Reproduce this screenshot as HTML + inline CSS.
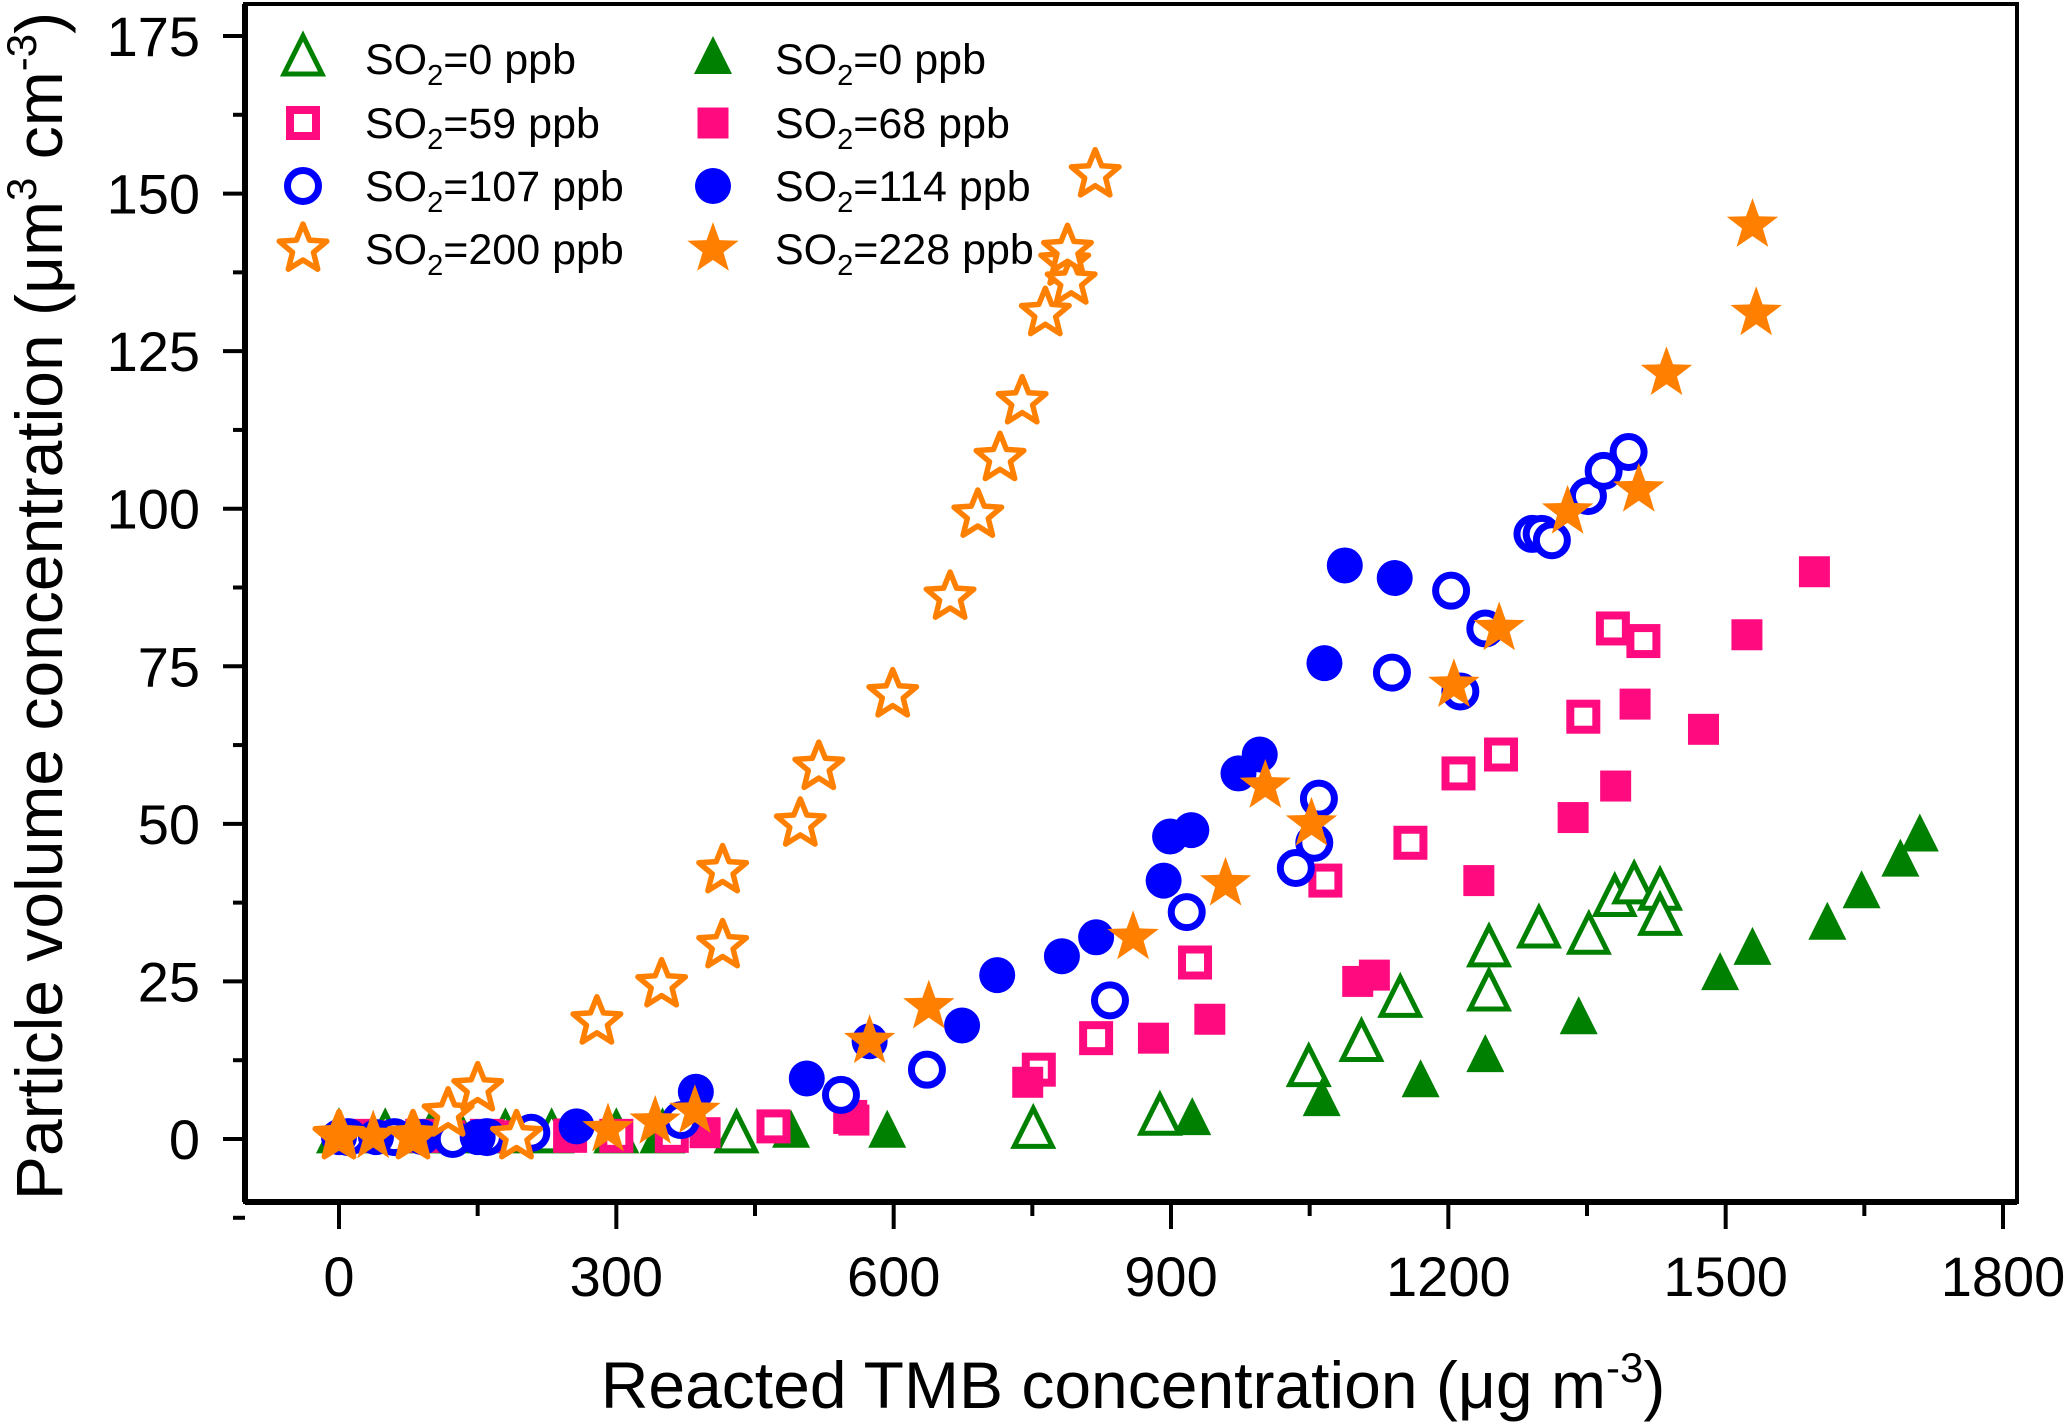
<!DOCTYPE html>
<html><head><meta charset="utf-8"><style>
html,body{margin:0;padding:0;background:#fff}
svg{display:block;font-family:"Liberation Sans",Arial,sans-serif}
</style></head><body>
<svg id="chart" width="2067" height="1422" viewBox="0 0 2067 1422">
<g id="marks"></g>
<g id="axes"></g>
<g id="legend"></g>
<text x="1133" y="1408" font-size="66" text-anchor="middle">Reacted TMB concentration (μg m<tspan dy="-26" font-size="42">-3</tspan><tspan dy="26">)</tspan></text>
<text transform="translate(62,606) rotate(-90)" font-size="66" text-anchor="middle">Particle volume concentration  (μm<tspan dy="-26" font-size="42">3</tspan><tspan dy="26"> cm</tspan><tspan dy="-26" font-size="42">-3</tspan><tspan dy="26">)</tspan></text>
</svg>
<script>
const xTicks=[0,300,600,900,1200,1500,1800];
const yTicks=[0,25,50,75,100,125,150,175];
const seriesNames=["SO2=0 ppb","SO2=0 ppb","SO2=59 ppb","SO2=68 ppb","SO2=107 ppb","SO2=114 ppb","SO2=200 ppb","SO2=228 ppb"];
const triOpenX=[0,50,100,130,180,230,300,350,430,751,888,1049,1106,1148,1244,1244,1298,1352,1380,1401,1429,1429];
const triOpenY=[0.5,0.5,0.5,0.5,0.5,0.5,0.5,0.5,0.5,1.2,3.3,11,15,22,30,23,33,32,38,40,39,35];
const triFillX=[300,350,489,593,923,1063,1170,1240,1341,1494,1529,1610,1647,1689,1710];
const triFillY=[0.5,0.5,1,1,3,6,9,13,19,26,30,34,39,44,48];
const sqOpenX=[20,90,160,250,300,360,470,553,757,819,926,1067,1159,1211,1257,1346,1378,1411];
const sqOpenY=[0.5,0.5,0.5,0.5,0.5,0.5,2,3.5,11,16,28,41,47,58,61,67,81,79];
const sqFillX=[40,120,180,250,396,557,745,881,942,1102,1120,1233,1335,1381,1402,1476,1523,1596];
const sqFillY=[0.5,0.5,0.5,0.8,1,3,9,16,19,25,26,41,51,56,69,65,80,90];
const cirOpenX=[10,60,123,160,208,370,543,636,834,917,1035,1055,1060,1139,1203,1240,1213,1291,1301,1312,1351,1368,1395];
const cirOpenY=[0.3,0.3,0,0.3,1,3,7,11,22,36,43,47,54,74,87,81,71,96,96,95,102,106,109];
const cirFillX=[0,40,90,150,257,386,506,574,674,712,782,819,892,899,922,973,996,1066,1088,1142];
const cirFillY=[0.3,0.3,0.3,0.3,2,7.5,9.6,15.5,18,26,29,32,41,48,49,58,61,75.5,91,89];
const starOpenX=[0,80,118,150,192,279,349,415,415,499,519,599,661,691,715,739,764,785,792,788,818];
const starOpenY=[0.4,0.4,4,8,0.4,18.6,24.5,30.7,42.6,50,59,70.5,86,99,108,117,131,139,136,141,153];
const starFillX=[0,37,80,291,342,385,574,638,859,959,1002,1052,1206,1255,1329,1406,1436,1533,1529];
const starFillY=[0.4,0.4,0.4,1.5,2.7,4.4,15.5,21,32,40.5,56,50,72,81,99.5,103,121.5,131,145];

const L=245,R=2017,T=4,B=1202;
const sx=v=>339+v*(2003-339)/1800;
const sy=v=>1139-v*(1139-36)/175;
const NS="http://www.w3.org/2000/svg";
function mk(tag,attrs,parent){const e=document.createElementNS(NS,tag);for(const k in attrs)e.setAttribute(k,attrs[k]);parent.appendChild(e);return e;}
const GREEN="#008000",PINK="#ff0a7f",BLUE="#0000ff",ORANGE="#ff8000";
function starPts(cx,cy,ro,ri){let p=[];for(let i=0;i<10;i++){const a=-Math.PI/2+i*Math.PI/5;const r=i%2?ri:ro;p.push((cx+r*Math.cos(a)).toFixed(1)+","+(cy+r*Math.sin(a)).toFixed(1));}return p.join(" ");}
function marker(shape,fill,color,cx,cy,parent,name){
  let e;
  const f=fill?color:"#fff";
  if(shape==="tri"){e=mk("polygon",{points:`${cx},${cy-23} ${cx-19},${cy+15} ${cx+19},${cy+15}`,fill:f,stroke:color,"stroke-width":fill?0:5},parent);}
  else if(shape==="sq"){const s=fill?31:26;e=mk("rect",{x:cx-s/2,y:cy-s/2,width:s,height:s,fill:f,stroke:color,"stroke-width":fill?0:8},parent);}
  else if(shape==="cir"){e=mk("circle",{cx:cx,cy:cy,r:fill?18:15.5,fill:f,stroke:color,"stroke-width":fill?0:7},parent);}
  else {e=mk("polygon",{points:starPts(cx,cy,fill?27:25,11),fill:f,stroke:color,"stroke-width":fill?0:5.5,"stroke-linejoin":"round"},parent);}
  
  
  return e;
}
const marks=document.getElementById('marks');
const series=[
 [triOpenX,triOpenY,"tri",false,GREEN,"open-triangle-point"],
 [triFillX,triFillY,"tri",true,GREEN,"filled-triangle-point"],
 [sqOpenX,sqOpenY,"sq",false,PINK,"open-square-point"],
 [sqFillX,sqFillY,"sq",true,PINK,"filled-square-point"],
 [cirOpenX,cirOpenY,"cir",false,BLUE,"open-circle-point"],
 [cirFillX,cirFillY,"cir",true,BLUE,"filled-circle-point"],
 [starOpenX,starOpenY,"star",false,ORANGE,"open-star-point"],
 [starFillX,starFillY,"star",true,ORANGE,"filled-star-point"]];
series.forEach(s=>{for(let i=0;i<s[0].length;i++)marker(s[2],s[3],s[4],sx(s[0][i]),sy(s[1][i]),marks,s[5]);});

const axes=document.getElementById('axes');
const frame=mk("rect",{x:L,y:T,width:R-L,height:B-T,fill:"none",stroke:"#000","stroke-width":4},axes);


mk("line",{x1:L,y1:B,x2:R,y2:B,stroke:"#000","stroke-width":6},axes);
mk("line",{x1:L,y1:T,x2:L,y2:B,stroke:"#000","stroke-width":6},axes);
xTicks.forEach((v,i)=>{
  const x=sx(v);
  mk("line",{x1:x,y1:B,x2:x,y2:B+27,stroke:"#000","stroke-width":4},axes);
  if(i<xTicks.length-1)mk("line",{x1:sx(v+150),y1:B,x2:sx(v+150),y2:B+14,stroke:"#000","stroke-width":4},axes);
  const t=mk("text",{x:x,y:1296,"font-size":56,"text-anchor":"middle"},axes);t.textContent=v;
  
  
});
yTicks.forEach((v,i)=>{
  const y=sy(v);
  mk("line",{x1:L,y1:y,x2:L-22,y2:y,stroke:"#000","stroke-width":4},axes);
  if(i<yTicks.length-1)mk("line",{x1:L,y1:sy(v+12.5),x2:L-12,y2:sy(v+12.5),stroke:"#000","stroke-width":4},axes);
  const t=mk("text",{x:200,y:y+20,"font-size":56,"text-anchor":"end"},axes);t.textContent=v;
  
  
});
mk("line",{x1:L,y1:sy(-12.5),x2:L-12,y2:sy(-12.5),stroke:"#000","stroke-width":4},axes);

const legend=document.getElementById('legend');
const legOrder=[0,2,4,6,1,3,5,7];
const rowsY=[59,123,186,249];
legOrder.forEach((si,k)=>{
  const col=k<4?0:1,row=k%4;
  const mx=col?713:303,tx=col?775:365,y=rowsY[row];
  const s=series[si];
  marker(s[2],s[3],s[4],mx,y,legend,'legend-marker');
  const t=mk("text",{x:tx,y:y+15,"font-size":43},legend);
  const name=seriesNames[si];
  t.innerHTML='SO<tspan dy="11" font-size="29">2</tspan><tspan dy="-11">'+name.slice(3)+'</tspan>';
  
  
});
</script>
</body></html>
